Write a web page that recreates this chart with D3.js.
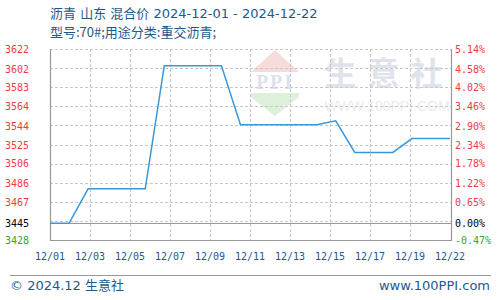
<!DOCTYPE html>
<html>
<head>
<meta charset="utf-8">
<script src="https://cdn.jsdelivr.net/npm/d3@7"></script>
<style>
  body { margin: 0; background: #fff; }
  svg { display: block; }
</style>
</head>
<body>
<svg id="chart" width="500" height="300"></svg>
<script>
// values
const dates = ['2024-12-01', '2024-12-02', '2024-12-03', '2024-12-04', '2024-12-05', '2024-12-06',
  '2024-12-07', '2024-12-08', '2024-12-09', '2024-12-10', '2024-12-11', '2024-12-12', '2024-12-13',
  '2024-12-14', '2024-12-15', '2024-12-16', '2024-12-17', '2024-12-18', '2024-12-19', '2024-12-20',
  '2024-12-21', '2024-12-22'];
const prices = [3445, 3445, 3480, 3480, 3480, 3480, 3605, 3605, 3605, 3605, 3545, 3545, 3545,
  3545, 3545, 3549, 3517, 3517, 3517, 3531, 3531, 3531];

const xLabels = ['12/01', '12/03', '12/05', '12/07', '12/09', '12/11', '12/13', '12/15', '12/17', '12/19', '12/22'];
const leftTicks = [3622, 3602, 3583, 3564, 3544, 3525, 3506, 3486, 3467, 3445, 3428];
const rightTicks = ['5.14%', '4.58%', '4.02%', '3.46%', '2.90%', '2.34%', '1.78%', '1.22%', '0.65%', '0.00%', '-0.47%'];
const basePrice = 3445;

const title = '沥青 山东 混合价 2024-12-01 - 2024-12-22';
const subtitle = '型号:70#;用途分类:重交沥青;';

const svg = d3.select('#chart');
const plot = { left: 50, right: 451, top: 49, bottom: 240 };
const blue = '#1d5a8c';

const parse = d3.timeParse('%Y-%m-%d');
const data = dates.map((d, i) => ({ date: parse(d), price: prices[i] }));

const xScale = d3.scaleTime()
  .domain(d3.extent(data, d => d.date))
  .range([plot.left, plot.right - 1]);
const xLabelScale = d3.scalePoint()
  .domain(xLabels)
  .range([plot.left, plot.right - 1]);
const yScale = d3.scaleLinear()
  .domain([3428, 3622])
  .range([plot.bottom, plot.top]);

// watermark
const wm = svg.append('g');
wm.append('path')
  .attr('d', 'M275,50 L299,72 L251,72 Z')
  .attr('fill', '#f8dcdc');
wm.append('path')
  .attr('d', 'M251,93 L299,93 L299,97 L275,116 L251,97 Z')
  .attr('fill', '#dcf0dc');
wm.append('text')
  .attr('x', 275).attr('y', 89)
  .attr('text-anchor', 'middle')
  .style('font-family', 'Liberation Serif, serif')
  .style('font-size', '20px')
  .style('font-weight', 'bold')
  .style('letter-spacing', '2px')
  .attr('fill', '#dde2ee')
  .text('PPI');
wm.append('text')
  .attr('x', 389).attr('y', 85)
  .attr('text-anchor', 'middle')
  .style('font-family', 'Noto Sans CJK SC')
  .style('font-size', '32px')
  .style('font-weight', 'bold')
  .style('letter-spacing', '11px')
  .attr('fill', '#dfe3ec')
  .text('生意社');
wm.append('text')
  .attr('x', 387).attr('y', 111)
  .attr('text-anchor', 'middle')
  .style('font-family', 'Liberation Sans, sans-serif')
  .style('font-size', '14px')
  .attr('fill', '#ececec')
  .text('WWW.100PPI.COM');

// grid
const gridY = d3.range(10).map(k => 3622 - k * (3622 - 3428) / 10);
svg.append('g')
  .selectAll('line')
  .data(gridY)
  .join('line')
  .attr('x1', plot.left).attr('x2', plot.right)
  .attr('y1', d => Math.round(yScale(d)) + 0.5)
  .attr('y2', d => Math.round(yScale(d)) + 0.5)
  .attr('stroke', '#c8c8c8')
  .attr('stroke-dasharray', '3,2');

svg.append('g')
  .selectAll('line')
  .data(xLabels.slice(1, -1))
  .join('line')
  .attr('x1', d => Math.round(xLabelScale(d)) + 0.5)
  .attr('x2', d => Math.round(xLabelScale(d)) + 0.5)
  .attr('y1', plot.top).attr('y2', plot.bottom)
  .attr('stroke', '#c8c8c8')
  .attr('stroke-dasharray', '3,2');

// base line (0%)
svg.append('line')
  .attr('x1', plot.left).attr('x2', plot.right)
  .attr('y1', Math.round(yScale(basePrice)) + 0.5)
  .attr('y2', Math.round(yScale(basePrice)) + 0.5)
  .attr('stroke', '#999');

// frame
svg.append('path')
  .attr('d', `M${plot.left + 0.5},${plot.top} V${plot.bottom + 0.5} H${plot.right + 0.5} V${plot.top}`)
  .attr('fill', 'none')
  .attr('stroke', '#999')
  .attr('stroke-width', 1.2);

// price line
const line = d3.line()
  .x(d => xScale(d.date))
  .y(d => yScale(d.price));

svg.append('path')
  .datum(data)
  .attr('fill', 'none')
  .attr('stroke', '#3a98d8')
  .attr('stroke-width', 1.5)
  .attr('d', line);

// y labels
const tickColor = v => v > basePrice ? '#f03c3c' : (v < basePrice ? '#2fa82f' : '#000');

svg.append('g')
  .selectAll('text')
  .data(leftTicks)
  .join('text')
  .attr('x', 29)
  .attr('y', d => yScale(d) + 4)
  .attr('text-anchor', 'end')
  .style('font-family', 'DejaVu Sans Mono, monospace')
  .style('font-size', '10px')
  .attr('fill', tickColor)
  .text(d => d);

svg.append('g')
  .selectAll('text')
  .data(rightTicks)
  .join('text')
  .attr('x', 455)
  .attr('y', (d, i) => yScale(leftTicks[i]) + 4)
  .style('font-family', 'DejaVu Sans Mono, monospace')
  .style('font-size', '10px')
  .attr('fill', (d, i) => tickColor(leftTicks[i]))
  .text(d => d);

// x labels
svg.append('g')
  .selectAll('text')
  .data(xLabels)
  .join('text')
  .attr('x', d => xLabelScale(d))
  .attr('y', 260)
  .attr('text-anchor', 'middle')
  .style('font-family', 'DejaVu Sans Mono, monospace')
  .style('font-size', '10px')
  .attr('fill', blue)
  .text(d => d);

// titles
svg.append('text')
  .attr('x', 50).attr('y', 18)
  .style('font-family', 'DejaVu Sans, Noto Sans CJK SC, sans-serif')
  .style('font-size', '13px')
  .attr('fill', blue)
  .text(title);
svg.append('text')
  .attr('x', 50).attr('y', 37)
  .style('font-family', 'Noto Sans CJK SC, sans-serif')
  .style('font-size', '13px')
  .attr('fill', blue)
  .text(subtitle);

// footer
svg.append('line')
  .attr('x1', 10).attr('x2', 491)
  .attr('y1', 275.5).attr('y2', 275.5)
  .attr('stroke', '#999');
svg.append('text')
  .attr('x', 10).attr('y', 290)
  .style('font-family', 'DejaVu Sans, Noto Sans CJK SC, sans-serif')
  .style('font-size', '13px')
  .attr('fill', blue)
  .text('© 2024.12 生意社');
svg.append('text')
  .attr('x', 490).attr('y', 290)
  .attr('text-anchor', 'end')
  .style('font-family', 'DejaVu Sans, sans-serif')
  .style('font-size', '13px')
  .attr('fill', blue)
  .text('www.100PPI.com');
</script>
</body>
</html>
